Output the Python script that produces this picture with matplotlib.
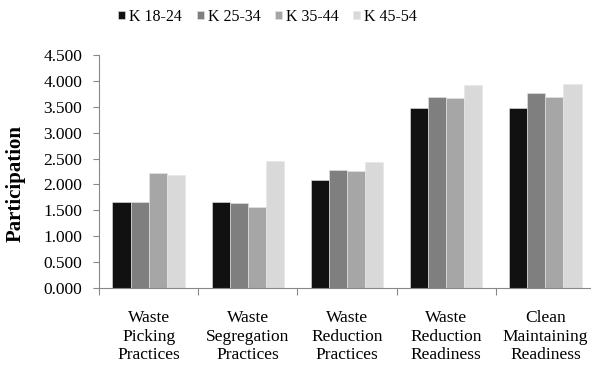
import numpy as np
import matplotlib.pyplot as plt

plt.rcParams['font.family'] = ['Liberation Serif', 'DejaVu Serif']

categories = ['Waste\nPicking\nPractices', 'Waste\nSegregation\nPractices',
              'Waste\nReduction\nPractices', 'Waste\nReduction\nReadiness',
              'Clean\nMaintaining\nReadiness']
groups = ['K 18-24', 'K 25-34', 'K 35-44', 'K 45-54']
k18_24 = [1.67, 1.67, 2.09, 3.48, 3.48]
k25_34 = [1.67, 1.65, 2.28, 3.69, 3.76]
k35_44 = [2.23, 1.57, 2.26, 3.67, 3.69]
k45_54 = [2.19, 2.46, 2.44, 3.92, 3.94]
series = [k18_24, k25_34, k35_44, k45_54]
colors = ['#111111', '#7f7f7f', '#a6a6a6', '#d9d9d9']

fig = plt.figure(figsize=(5.91, 3.67), dpi=100)
ax = fig.add_axes([99 / 591, 79 / 367, 496 / 591, 233 / 367])

x = np.arange(len(categories))
w = 0.182
for i, (vals, c) in enumerate(zip(series, colors)):
    ax.bar(x + (i - 1.5) * w, vals, w, color=c, label=groups[i],
           edgecolor='#e6e6e6', linewidth=0.4)

ax.set_xlim(-0.5, 4.5)
ax.set_ylim(0, 4.5)
ax.set_yticks(np.arange(0, 4.51, 0.5))
ax.set_yticklabels(['%.3f' % v for v in np.arange(0, 4.51, 0.5)], fontsize=12.5)
ax.set_xticks(x)
ax.set_xticklabels(categories, fontsize=12.5, linespacing=1.2)
ax.set_xticks(np.arange(-0.5, 4.6, 1), minor=True)
ax.tick_params(axis='x', which='major', length=0, pad=16)
ax.tick_params(axis='x', which='minor', length=5, color='#888888', width=0.8)
ax.tick_params(axis='y', length=4, color='#888888', width=0.8, pad=8)

for side in ['top', 'right']:
    ax.spines[side].set_visible(False)
for side in ['left', 'bottom']:
    ax.spines[side].set_color('#888888')
    ax.spines[side].set_linewidth(0.8)

ax.set_ylabel('Participation', fontsize=15, fontweight='bold')
ax.yaxis.set_label_coords(-0.148, 0.45)

fig.legend(loc='upper center', bbox_to_anchor=(0.453, 1.015), ncol=4,
           frameon=False, fontsize=11.5, handlelength=0.45, handleheight=0.45,
           handletextpad=0.25, columnspacing=0.9)

fig.savefig('out.png', dpi=100)
